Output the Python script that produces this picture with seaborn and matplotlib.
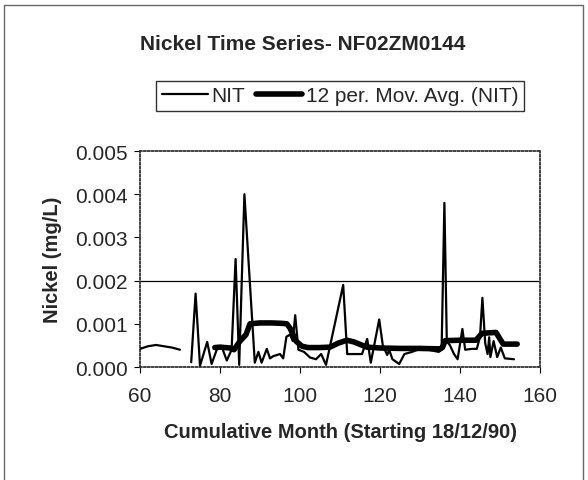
import numpy as np
import pandas as pd
import matplotlib
matplotlib.use("Agg")
import matplotlib.pyplot as plt
import seaborn as sns
from matplotlib.lines import Line2D
from matplotlib.patches import Rectangle

# ---- data ----
nit_month_a = [60, 62, 64, 66, 68, 70]
nit_value_a = [0.00042, 0.00048, 0.00051, 0.00048, 0.00045, 0.00040]

nit_month_b = [72.8, 73.9, 75.0, 76.8, 77.9, 79.5, 80.5, 81.7, 82.9, 83.9, 84.8,
               86.1, 88.7, 89.6, 90.4, 91.7, 92.5, 93.3, 95.0, 95.8, 96.6, 97.5,
               98.2, 98.8, 99.6, 101.0, 102.5, 104.0, 105.3, 106.5, 110.8, 111.8,
               113.0, 115.5, 116.8, 117.7, 119.8, 120.7, 121.8, 122.3, 123.1, 124.8,
               126.1, 128.0, 130.0, 132.0, 134.7, 135.4, 136.1, 136.7, 137.5, 138.5,
               139.4, 140.6, 141.3, 143.0, 144.2, 145.0, 145.6, 146.3, 146.9, 147.3,
               147.6, 148.4, 149.3, 150.2, 151.2, 153.5]
nit_value_b = [0.00011, 0.00170, 0.00003, 0.00058, 0.00007, 0.00048, 0.00045, 0.00015,
               0.00040, 0.00250, 0.00005, 0.00400, 0.00010, 0.00035, 0.00010, 0.00042,
               0.00020, 0.00025, 0.00030, 0.00020, 0.00070, 0.00075, 0.00060, 0.00120,
               0.00040, 0.00035, 0.00022, 0.00018, 0.00030, 0.00005, 0.00190, 0.00030,
               0.00030, 0.00030, 0.00065, 0.00010, 0.00110, 0.00050, 0.00028, 0.00040,
               0.00018, 0.00007, 0.00030, 0.00035, 0.00042, 0.00040, 0.00035, 0.00040,
               0.00380, 0.00060, 0.00050, 0.00030, 0.00018, 0.00088, 0.00040, 0.00042,
               0.00042, 0.00070, 0.00160, 0.00055, 0.00030, 0.00069, 0.00023, 0.00060,
               0.00023, 0.00045, 0.00020, 0.00018]

avg_month = [78.7, 80.0, 82.5, 83.5, 85.0, 86.5, 87.5, 90.0, 93.0, 95.5, 96.7,
             97.5, 99.0, 100.5, 102.0, 105.0, 107.5, 109.5, 111.7, 113.5, 116.7,
             120.0, 125.0, 130.0, 135.0, 135.6, 136.3, 140.0, 144.0, 145.5, 149.0,
             150.8, 154.3]
avg_value = [0.00045, 0.00046, 0.00044, 0.00040, 0.00060, 0.00075, 0.00100, 0.00102,
             0.00102, 0.00101, 0.00100, 0.00090, 0.00060, 0.00048, 0.00045, 0.00045,
             0.00046, 0.00055, 0.00062, 0.00058, 0.00046, 0.00044, 0.00043, 0.00043,
             0.00042, 0.00045, 0.00061, 0.00062, 0.00062, 0.00078, 0.00080, 0.00053,
             0.00053]

y_ticks = [0.000, 0.001, 0.002, 0.003, 0.004, 0.005]
x_ticks = [60, 80, 100, 120, 140, 160]
threshold = 0.002

nit_df = pd.DataFrame({
    "month": nit_month_a + nit_month_b,
    "value": nit_value_a + nit_value_b,
    "seg": ["a"] * len(nit_month_a) + ["b"] * len(nit_month_b),
})
avg_df = pd.DataFrame({"month": avg_month, "value": avg_value})

sns.set_theme(style="white")
plt.rcParams["font.family"] = ["Liberation Sans", "DejaVu Sans"]

fig = plt.figure(figsize=(5.88, 4.81), dpi=100)
ax = fig.add_axes([140 / 588, 1 - 368 / 481, 400 / 588, 216 / 481])

# outer chart border
fig.patches.append(Rectangle((4 / 588, -0.05), 579 / 588, 1.05 - 6 / 481,
                             transform=fig.transFigure, fill=False,
                             edgecolor="#666666", linewidth=1.0))

ax.axhline(threshold, color="black", linewidth=0.9, zorder=1)

sns.lineplot(data=nit_df, x="month", y="value", units="seg", estimator=None,
             sort=False, color="black", linewidth=1.6, ax=ax, zorder=3)
sns.lineplot(data=avg_df, x="month", y="value", estimator=None, sort=False,
             color="black", linewidth=4.0, ax=ax, zorder=2)

ax.set_xlim(60, 160)
ax.set_ylim(0, 0.005)
ax.set_xticks(x_ticks)
ax.set_yticks(y_ticks)
ax.set_xticklabels([str(t) for t in x_ticks], fontsize=15)
ax.set_yticklabels([f"{t:.3f}" for t in y_ticks], fontsize=15)
ax.tick_params(axis="both", direction="out", length=4, width=0.8,
               color="black", left=True, bottom=True)
ax.tick_params(axis="x", pad=10)
ax.tick_params(axis="y", pad=5)

for side in ["top", "right", "bottom", "left"]:
    ax.spines[side].set_visible(True)
    ax.spines[side].set_linestyle((0, (1, 1.2)))
    ax.spines[side].set_color("#333333")
    ax.spines[side].set_linewidth(1.3)

ax.set_xlabel("Cumulative Month (Starting 18/12/90)", fontsize=14.5,
              fontweight="bold", labelpad=12)
ax.set_ylabel("Nickel (mg/L)", fontsize=14.5, fontweight="bold", labelpad=9)

fig.text(303 / 588, 1 - 45 / 481, "Nickel Time Series- NF02ZM0144",
         ha="center", va="center", fontsize=15, fontweight="bold")

handles = [Line2D([], [], color="black", linewidth=1.6),
           Line2D([], [], color="black", linewidth=4.0)]
leg = fig.legend(handles, ["NIT", "12 per. Mov. Avg. (NIT)"],
                 loc="center", bbox_to_anchor=(340 / 588, 1 - 97 / 481),
                 ncol=2, frameon=True, fancybox=False, fontsize=15,
                 handlelength=2.2, handletextpad=0.2, columnspacing=0.5,
                 borderpad=0.25, borderaxespad=0)
leg.get_frame().set_edgecolor("black")
leg.get_frame().set_linewidth(1.0)

fig.savefig("out.png", dpi=100)
